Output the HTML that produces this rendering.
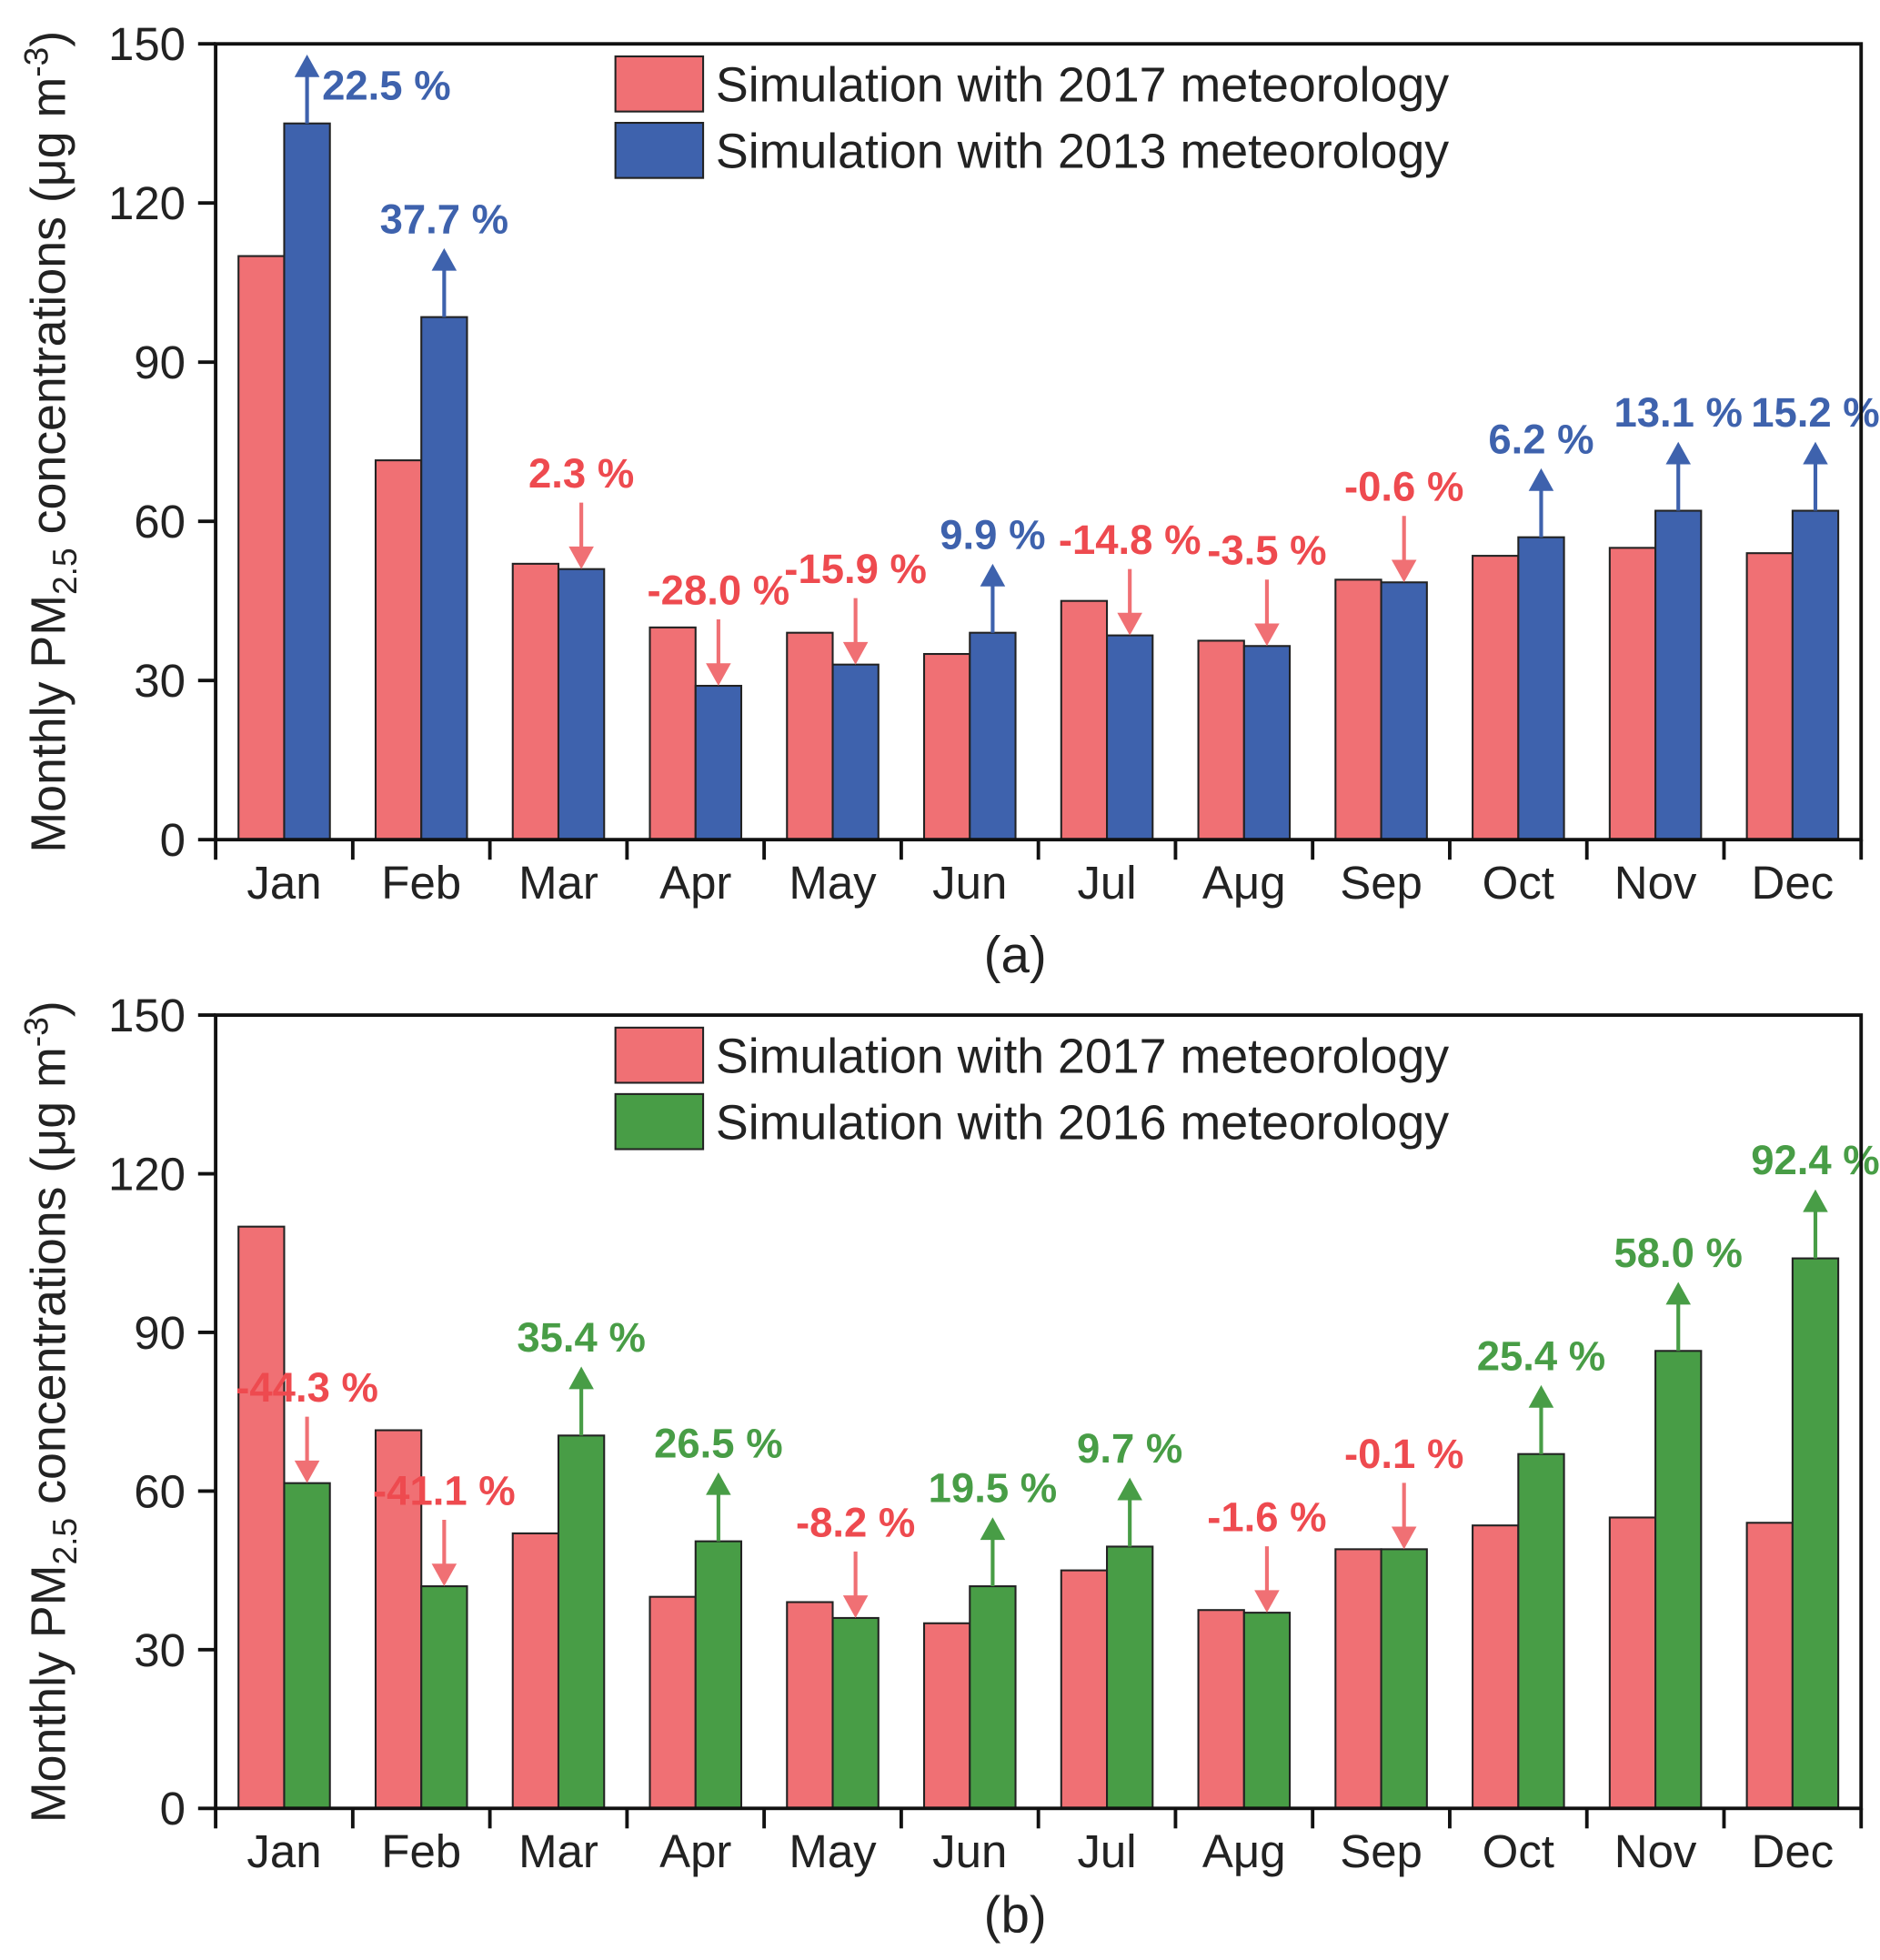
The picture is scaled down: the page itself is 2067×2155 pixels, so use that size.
<!DOCTYPE html>
<html><head><meta charset="utf-8"><style>
html,body{margin:0;padding:0;background:#fff;}
svg{display:block;font-family:"Liberation Sans",Arial,sans-serif;}
</style></head><body>
<svg id="chart" width="2067" height="2155" viewBox="0 0 1500 1564" xmlns="http://www.w3.org/2000/svg"></svg>
<script>
const months = ["Jan","Feb","Mar","Apr","May","Jun","Jul","Aμg","Sep","Oct","Nov","Dec"];
const met2017 = [110,71.5,52,40,39,35,45,37.5,49,53.5,55,54];
const met2013 = [135,98.5,51,29,33,39,38.5,36.5,48.5,57,62,62];
const met2016 = [61.5,42,70.5,50.5,36,42,49.5,37,49,67,86.5,104];
const pctA = ["22.5 %","37.7 %","2.3 %","-28.0 %","-15.9 %","9.9 %","-14.8 %","-3.5 %","-0.6 %","6.2 %","13.1 %","15.2 %"];
const pctB = ["-44.3 %","-41.1 %","35.4 %","26.5 %","-8.2 %","19.5 %","9.7 %","-1.6 %","-0.1 %","25.4 %","58.0 %","92.4 %"];
const yTicks = [0,30,60,90,120,150];

const NS="http://www.w3.org/2000/svg";
const svg=document.getElementById('chart');
function mk(tag,attrs,parent){const e=document.createElementNS(NS,tag);for(const k in attrs)e.setAttribute(k,attrs[k]);(parent||svg).appendChild(e);return e;}
const RED="#f07074", REDTXT="#ee4a4f";

function panel(opt){
  const L=172,R=1485,T=opt.top,B=opt.bottom;
  const g=mk('g',{});
  
  
  const y=v=>B-(v/150)*(B-T);
  const cw=(R-L)/months.length;
  const cx=i=>L+cw*(i+0.5);
  const bw=cw/3;
  months.forEach((m,i)=>{
    const r=mk('rect',{x:cx(i)-bw,y:y(met2017[i]),width:bw,height:B-y(met2017[i]),fill:RED,stroke:"#222","stroke-width":1.5},g);
    
    
    const v=opt.series[i];
    const b=mk('rect',{x:cx(i),y:y(v),width:bw,height:B-y(v),fill:opt.color,stroke:"#222","stroke-width":1.5},g);
    
    
  });
  months.forEach((m,i)=>{
    const v=opt.series[i], x=cx(i)+bw/2, top=y(v);
    const up=!opt.pct[i].startsWith('-') && v>=met2017[i];
    const col=up?opt.color:RED, tcol=up?opt.color:REDTXT;
    let y1,y2,ah;
    if(up){y1=top;y2=top-55;mk('line',{x1:x,y1:y1,x2:x,y2:y2+14,stroke:col,"stroke-width":3},g);
      mk('polygon',{points:`${x-10},${y2+18} ${x+10},${y2+18} ${x},${y2}`,fill:col},g);ah=y2;}
    else{y1=top-53;y2=top;mk('line',{x1:x,y1:y1,x2:x,y2:y2-14,stroke:col,"stroke-width":3},g);
      mk('polygon',{points:`${x-10},${y2-18} ${x+10},${y2-18} ${x},${y2}`,fill:col},g);ah=y1;}
    let tx=x, ty=ah-12, anchor='middle';
    if(opt.year==='2013'&&i===0){tx=x+12;ty=ah+36;anchor='start';}
    const t=mk('text',{x:tx,y:ty,"text-anchor":anchor,"font-size":33,"font-weight":"bold",fill:tcol},g);
    t.textContent=opt.pct[i];
    
    
  });
  mk('rect',{x:L,y:T,width:R-L,height:B-T,fill:"none",stroke:"#111","stroke-width":2.8},g);
  yTicks.forEach(v=>{
    mk('line',{x1:L-14,y1:y(v),x2:L,y2:y(v),stroke:"#111","stroke-width":2.8},g);
    const t=mk('text',{x:L-24,y:y(v)+13,"text-anchor":"end","font-size":37,fill:"#222"},g);
    t.textContent=v;
    
    
  });
  for(let i=0;i<=months.length;i++){
    mk('line',{x1:L+cw*i,y1:B,x2:L+cw*i,y2:B+16,stroke:"#111","stroke-width":2.8},g);
  }
  months.forEach((m,i)=>{
    const t=mk('text',{x:cx(i),y:B+47,"text-anchor":"middle","font-size":37,fill:"#222"},g);
    t.textContent=m;
    
    
  });
  const yt=mk('text',{transform:`translate(52,${(T+B)/2}) rotate(-90)`,"text-anchor":"middle","font-size":39,fill:"#222"},g);
  yt.innerHTML='Monthly PM<tspan font-size="27" dy="9">2.5</tspan><tspan dy="-9"> concentrations (μg m</tspan><tspan font-size="27" dy="-14">-3</tspan><tspan dy="14">)</tspan>';
  
  
  const lg=mk('g',{},g);
  
  
  [[RED,'2017'],[opt.color,opt.year]].forEach((d,k)=>{
    const ly=T+10+k*53;
    mk('rect',{x:491,y:ly,width:70,height:44,fill:d[0],stroke:"#222","stroke-width":1.5},lg);
    const t=mk('text',{x:571,y:ly+36,"font-size":39,fill:"#222"},lg);
    t.textContent='Simulation with '+d[1]+' meteorology';
    
    
  });
  const cap=mk('text',{x:810,y:opt.capY,"text-anchor":"middle","font-size":41,fill:"#222"},g);
  cap.textContent=opt.cap;
  
  
}
panel({name:'panel-a',top:35,bottom:670,series:met2013,pct:pctA,color:"#3e62ad",year:'2013',cap:'(a)',capY:776});
panel({name:'panel-b',top:810,bottom:1443,series:met2016,pct:pctB,color:"#489d46",year:'2016',cap:'(b)',capY:1542});
</script>
</body></html>
